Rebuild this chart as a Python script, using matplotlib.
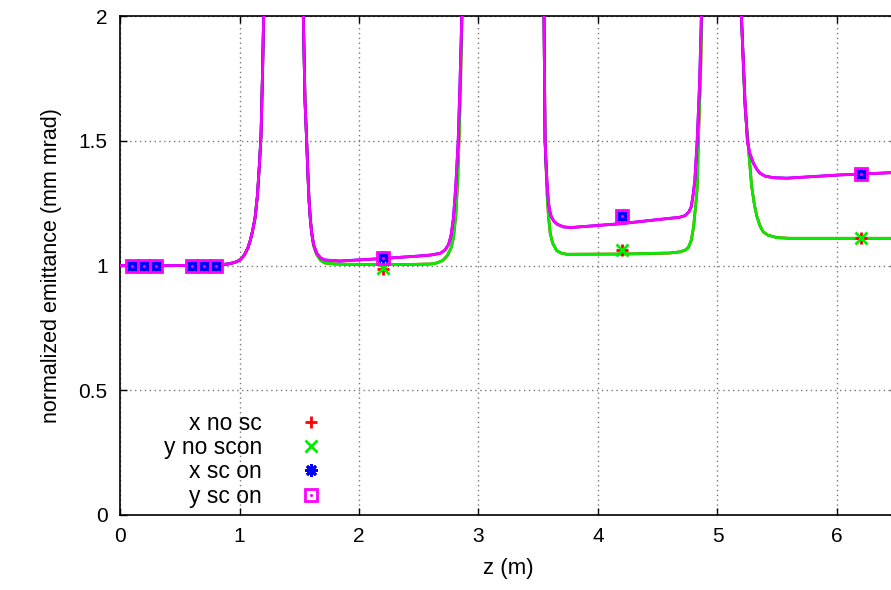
import matplotlib
matplotlib.use("Agg")
import matplotlib.pyplot as plt
from matplotlib.lines import Line2D

# ---- curve data ----
z_nosc = [0.0, 0.5, 0.84, 0.90, 0.95, 0.98, 1.01, 1.04, 1.07, 1.09, 1.11, 1.13, 1.15, 1.166,
          1.18, 1.194, 1.202, 1.37,
          1.534, 1.548, 1.562, 1.572, 1.582, 1.592, 1.604, 1.62, 1.645, 1.68, 1.715, 1.8,
          2.0, 2.4, 2.6, 2.65, 2.70, 2.74, 2.77, 2.79, 2.81, 2.825, 2.84, 2.852, 2.862, 3.2,
          3.548, 3.557, 3.565, 3.575, 3.585, 3.60, 3.62, 3.654, 3.69, 3.74, 4.2,
          4.6, 4.69, 4.73, 4.756, 4.78, 4.80, 4.815, 4.83, 4.84, 4.86, 4.868, 5.03,
          5.20, 5.23, 5.258, 5.286, 5.31, 5.33, 5.355, 5.38, 5.42, 5.495, 5.6, 6.0, 6.5]
emit_nosc = [1.0, 1.0, 1.003, 1.006, 1.011, 1.016, 1.025, 1.042, 1.07, 1.10, 1.14, 1.19, 1.28, 1.40,
             1.52, 1.80, 2.0, 4.0,
             2.0, 1.66, 1.50, 1.37, 1.26, 1.19, 1.13, 1.08, 1.045, 1.02, 1.01, 1.006,
             1.004, 1.004, 1.006, 1.01, 1.02, 1.04, 1.07, 1.11, 1.20, 1.33, 1.55, 1.78, 2.0, 4.0,
             2.0, 1.5, 1.40, 1.28, 1.20, 1.13, 1.09, 1.06, 1.05, 1.045, 1.046,
             1.05, 1.055, 1.062, 1.072, 1.10, 1.155, 1.23, 1.31, 1.50, 1.80, 2.0, 4.0,
             2.0, 1.64, 1.476, 1.316, 1.24, 1.196, 1.16, 1.136, 1.122, 1.112, 1.109, 1.109, 1.109]

z_sc = [0.0, 0.5, 0.84, 0.90, 0.95, 0.98, 1.01, 1.04, 1.07, 1.09, 1.11, 1.13, 1.15, 1.166,
        1.18, 1.194, 1.202, 1.37,
        1.534, 1.548, 1.562, 1.572, 1.582, 1.592, 1.604, 1.62, 1.645, 1.68, 1.715, 1.84,
        2.2, 2.5, 2.6, 2.68, 2.72, 2.75, 2.77, 2.79, 2.81, 2.83, 2.845, 2.86, 3.2,
        3.548, 3.557, 3.566, 3.575, 3.584, 3.595, 3.61, 3.63, 3.66, 3.71, 3.77, 4.2,
        4.52, 4.68, 4.73, 4.76, 4.78, 4.795, 4.81, 4.83, 4.85, 4.865, 5.03,
        5.20, 5.23, 5.25, 5.27, 5.30, 5.33, 5.355, 5.40, 5.467, 5.58, 6.025, 6.5]
emit_sc = [1.0, 1.0, 1.003, 1.006, 1.011, 1.016, 1.025, 1.042, 1.07, 1.10, 1.14, 1.19, 1.28, 1.40,
           1.52, 1.80, 2.0, 4.0,
           2.0, 1.66, 1.50, 1.37, 1.26, 1.19, 1.13, 1.085, 1.05, 1.03, 1.022, 1.018,
           1.028, 1.038, 1.042, 1.049, 1.062, 1.085, 1.12, 1.19, 1.32, 1.50, 1.73, 2.0, 4.0,
           2.0, 1.5, 1.40, 1.32, 1.26, 1.22, 1.195, 1.178, 1.165, 1.155, 1.152, 1.168,
           1.185, 1.193, 1.20, 1.215, 1.235, 1.28, 1.34, 1.50, 1.73, 2.0, 4.0,
           2.0, 1.66, 1.50, 1.45, 1.41, 1.385, 1.37, 1.358, 1.352, 1.35, 1.363, 1.373]

# ---- point data ----
z_pts = [0.1, 0.2, 0.3, 0.6, 0.7, 0.8, 2.2, 4.2, 6.2]
x_nosc_pts = [1.0, 1.0, 1.0, 1.0, 1.0, 1.0, 0.986, 1.062, 1.109]
y_nosc_pts = [1.0, 1.0, 1.0, 1.0, 1.0, 1.0, 0.99, 1.062, 1.109]
x_sc_pts = [1.0, 1.0, 1.0, 1.0, 1.0, 1.0, 1.035, 1.2, 1.366]
y_sc_pts = [1.0, 1.0, 1.0, 1.0, 1.0, 1.0, 1.029, 1.2, 1.366]

labels = ["x no sc", "y no scon", "x sc on", "y sc on"]
colors = ["#ff0000", "#00ee00", "#0000ff", "#ff00ff"]

xticks = [0, 1, 2, 3, 4, 5, 6]
yticks = [0, 0.5, 1, 1.5, 2]
ytick_labels = ["0", "0.5", "1", "1.5", "2"]

plt.rcParams['font.family'] = ['Liberation Sans', 'DejaVu Sans']

W, H = 891, 590
fig = plt.figure(figsize=(W / 100, H / 100), dpi=100)
x0, x1 = 120, 120 + 6.5 * 119.5
y_top, y_bot = 16, 515
ax = fig.add_axes([x0 / W, (H - y_bot) / H, (x1 - x0) / W, (y_bot - y_top) / H])

lw = 2.0
ax.plot(z_nosc, emit_nosc, color=colors[0], lw=lw, zorder=3)
ax.plot(z_nosc, emit_nosc, color=colors[1], lw=lw, zorder=3)
ax.plot(z_sc, emit_sc, color=colors[2], lw=lw, zorder=3)
ax.plot(z_sc, emit_sc, color=colors[3], lw=lw, zorder=3)

mk = dict(linestyle='none', zorder=4)
ax.plot(z_pts, x_nosc_pts, marker='+', ms=9, mew=2, color=colors[0], **mk)
ax.plot(z_pts, y_nosc_pts, marker='x', ms=8, mew=2, color=colors[1], **mk)
ax.plot(z_pts, x_sc_pts, marker=(8, 2, 0), ms=9, mew=2, color=colors[2], **mk)
ax.plot(z_pts, y_sc_pts, marker='s', ms=9, mew=2, mfc='none', color=colors[3], **mk)
ax.plot(z_pts, y_sc_pts, marker='o', ms=2.2, mew=0, color=colors[3], **mk)

ax.set_xlim(0, 6.5)
ax.set_ylim(0, 2)
ax.set_xticks(xticks)
ax.set_yticks(yticks)
ax.set_yticklabels(ytick_labels)
ax.grid(True, color='#777777', linestyle=(0, (1, 2.5)), linewidth=1.0)
ax.set_axisbelow(True)
ax.tick_params(direction='in', length=5, width=1, top=True, right=True,
               labelsize=15, pad=9)
for s in ax.spines.values():
    s.set_linewidth(1.2)

ax.set_xlabel("z (m)", fontsize=16, labelpad=8)
ax.set_ylabel("normalized emittance (mm mrad)", fontsize=15.5, labelpad=12)

handles = [
    Line2D([], [], linestyle='none', marker='+', ms=9, mew=2, color=colors[0]),
    Line2D([], [], linestyle='none', marker='x', ms=8, mew=2, color=colors[1]),
    Line2D([], [], linestyle='none', marker=(8, 2, 0), ms=9, mew=2, color=colors[2]),
    (Line2D([], [], linestyle='none', marker='s', ms=9, mew=2, mfc='none', color=colors[3]),
     Line2D([], [], linestyle='none', marker='o', ms=2.2, mew=0, color=colors[3])),
]
leg = ax.legend(handles, labels, loc='lower left', bbox_to_anchor=(0.0415, -0.008),
                markerfirst=False, frameon=False, fontsize=16.5, handlelength=2.0,
                handletextpad=1.15, labelspacing=0.05, borderpad=0.0)
for t in leg.get_texts():
    t.set_ha('right')
leg.set_zorder(5)

fig.savefig("out.png", dpi=100)
